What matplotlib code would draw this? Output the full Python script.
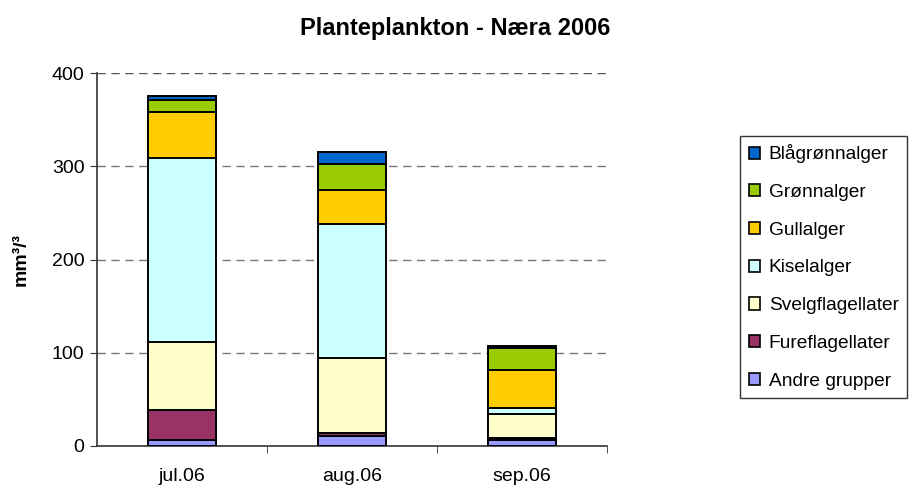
import matplotlib
matplotlib.use("Agg")
import matplotlib.pyplot as plt
import numpy as np
from matplotlib.patches import Patch

plt.rcParams['font.family'] = ['Liberation Sans', 'DejaVu Sans']

categories = ["jul.06", "aug.06", "sep.06"]
series_names = ["Andre grupper", "Fureflagellater", "Svelgflagellater", "Kiselalger",
                "Gullalger", "Grønnalger", "Blågrønnalger"]
andre = [6.4, 10.7, 6.4]
fure = [32.2, 3.6, 2.5]
svelg = [72.6, 79.7, 25.4]
kisel = [197.3, 143.7, 6.1]
gull = [49.3, 36.8, 41.1]
gronn = [13.3, 27.5, 24.0]
bla = [4.3, 13.0, 1.7]
series_values = [andre, fure, svelg, kisel, gull, gronn, bla]
colors = ["#9999FF", "#993366", "#FFFFCC", "#CCFFFF", "#FFCC00", "#99CC00", "#0066CC"]
yticks = [0, 100, 200, 300, 400]

fig = plt.figure(figsize=(9.18, 4.87), dpi=100)
ax = fig.add_axes([97/918, 41/487, 510/918, 373/487])

x = np.arange(len(categories))
bottom = np.zeros(len(categories))
for name, vals, c in zip(series_names, series_values, colors):
    ax.bar(x, vals, width=0.4, bottom=bottom, color=c, edgecolor='black', linewidth=1.4, label=name, zorder=3)
    bottom += np.array(vals)

ax.set_xlim(-0.5, 2.5)
ax.set_ylim(0, 400)
ax.set_yticks(yticks)
ax.set_yticklabels([str(v) for v in yticks], fontsize=14)
ax.set_xticks(x)
ax.set_xticklabels(categories, fontsize=14)
ax.tick_params(axis='x', which='major', length=0, pad=16)
ax.set_xticks([0.5, 1.5, 2.5], minor=True)
ax.tick_params(axis='x', which='minor', length=5, direction='out', color='#333333')
ax.tick_params(axis='y', length=5, direction='out', color='#333333', pad=4)

for v in [100, 200, 300, 400]:
    ax.axhline(v, color='#777777' if v < 400 else '#555555', linestyle=(0, (6, 4)), linewidth=1, zorder=1)

ax.spines['top'].set_visible(False)
ax.spines['right'].set_visible(False)
ax.spines['left'].set_color('#333333')
ax.spines['bottom'].set_color('#333333')
ax.spines['left'].set_linewidth(1.2)
ax.spines['bottom'].set_linewidth(1.2)

ax.set_ylabel("mm³/³", fontsize=14, fontweight='bold', labelpad=16)
fig.text(455/918, 1 - 29/487, "Planteplankton - Næra 2006",
         ha='center', va='center', fontsize=17, fontweight='bold')

handles = [Patch(facecolor=c, edgecolor='black', linewidth=1.2, label=n)
           for n, c in zip(series_names, colors)][::-1]
leg = fig.legend(handles=handles, loc='center left', bbox_to_anchor=(740/918, (487-267)/487),
                 fontsize=13.8, frameon=True, fancybox=False, edgecolor='black',
                 handlelength=0.6, handleheight=0.6, handletextpad=0.45, labelspacing=1.08,
                 borderpad=0.45, borderaxespad=0)
leg.get_frame().set_linewidth(1.0)

fig.savefig("out.png", dpi=100)
